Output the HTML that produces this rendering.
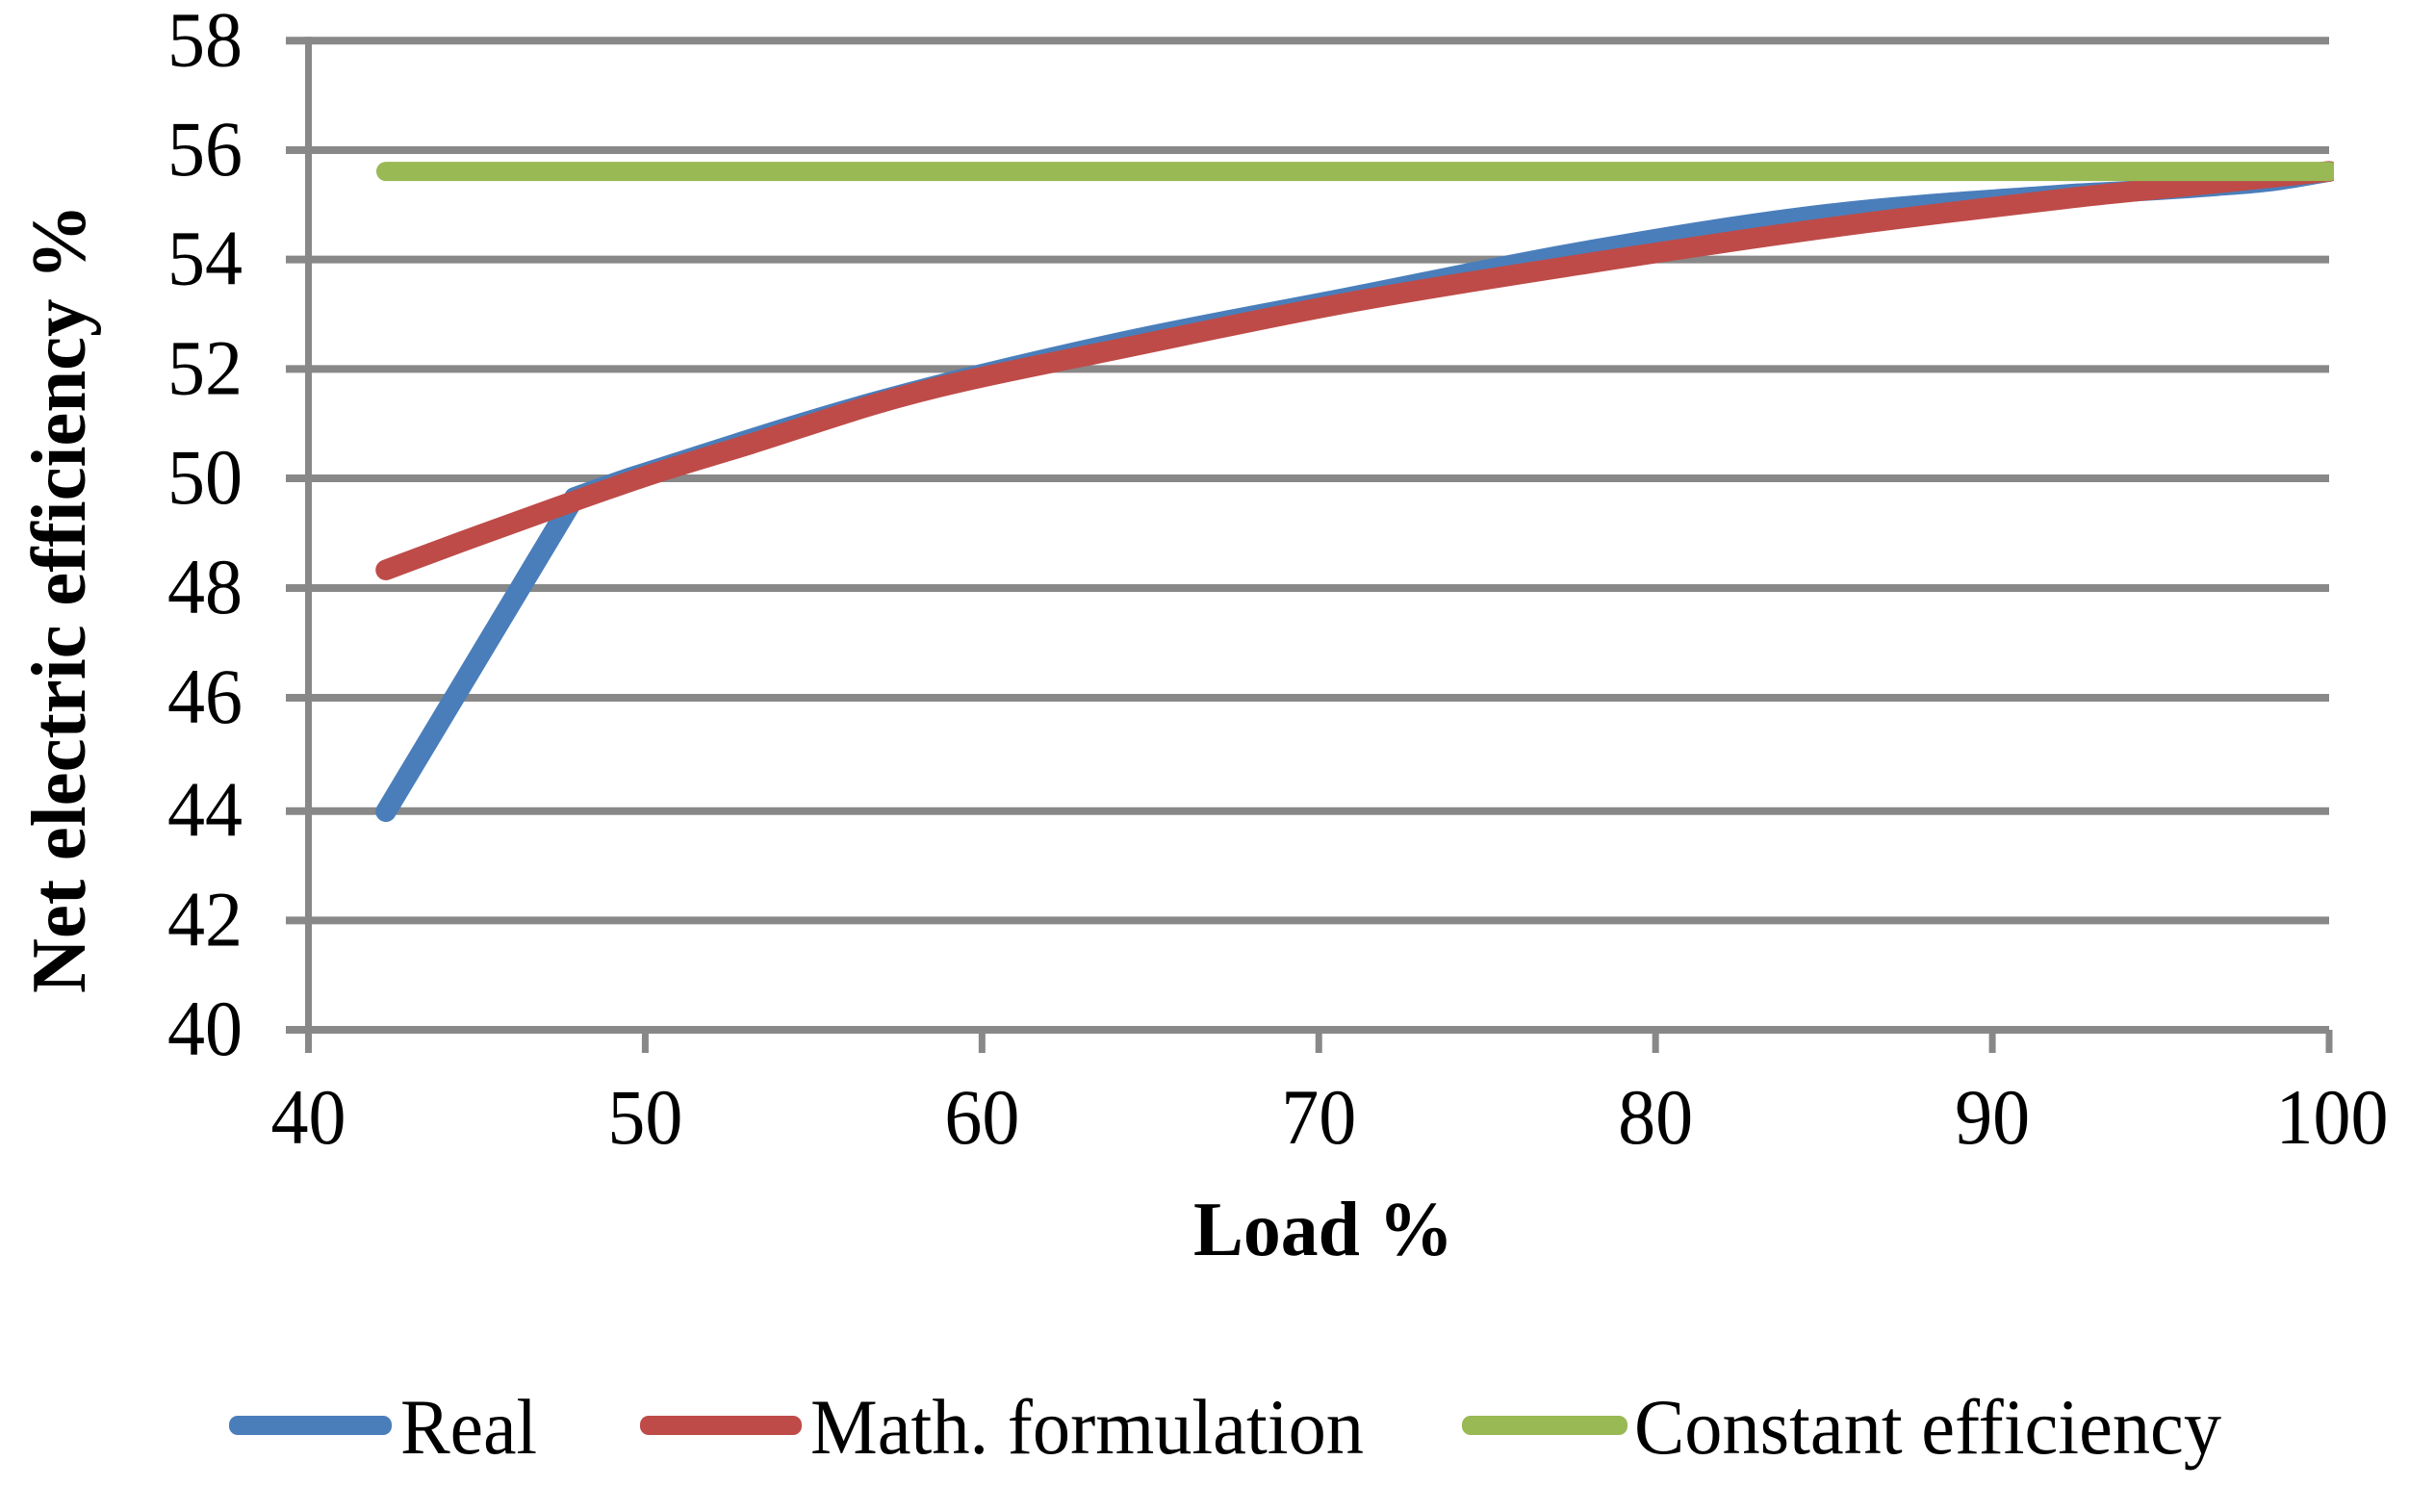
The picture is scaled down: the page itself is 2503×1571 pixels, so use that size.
<!DOCTYPE html>
<html lang="en">
<head>
<meta charset="utf-8">
<title>Net electric efficiency vs load</title>
<style>
html,body{margin:0;padding:0;background:#fff;}
svg{display:block;}
text{font-family:"Liberation Serif",serif;fill:#000;}
</style>
</head>
<body>
<svg id="chart" xmlns="http://www.w3.org/2000/svg" width="2503" height="1571" viewBox="0 0 2503 1571">
  <defs>
    <clipPath id="plot-clip"><rect x="300" y="0" width="2125" height="1100"/></clipPath>
  </defs>
  <rect x="0" y="0" width="2503" height="1571" fill="#fff"/>
  <g id="grid"></g>
  <g id="axes"></g>
  <g id="series" clip-path="url(#plot-clip)"></g>
  <g id="ylabels"></g>
  <g id="xlabels"></g>
  <text transform="translate(88,1032) rotate(-90)" font-size="81" font-weight="bold" textLength="820" lengthAdjust="spacingAndGlyphs">Net electric efficiency %</text>
  <text x="1240" y="1304" font-size="80" font-weight="bold" textLength="270" lengthAdjust="spacingAndGlyphs">Load %</text>
  <g>
    <g>
      <rect x="238" y="1471" width="169" height="20" rx="9" fill="#4a7ebb"/>
      <text x="416" y="1510" font-size="82" textLength="142" lengthAdjust="spacingAndGlyphs">Real</text>
    </g>
    <g>
      <rect x="665" y="1471" width="168" height="20" rx="9" fill="#be4b48"/>
      <text x="842" y="1510" font-size="82" textLength="575" lengthAdjust="spacingAndGlyphs">Math. formulation</text>
    </g>
    <g>
      <rect x="1519" y="1471" width="172" height="20" rx="9" fill="#98b954"/>
      <text x="1698" y="1510" font-size="82" textLength="610" lengthAdjust="spacingAndGlyphs">Constant efficiency</text>
    </g>
  </g>
</svg>
<script>
const yTicks = [40, 42, 44, 46, 48, 50, 52, 54, 56, 58];
const xTicks = [40, 50, 60, 70, 80, 90, 100];

const realLoad = [42.3, 47.9, 49.7, 56.85, 63.99, 70.85, 77.99, 85.14, 92.28, 94.49, 96.69, 98.32, 100];
const realEff = [43.99, 49.65, 50.04, 51.4, 52.47, 53.3, 54.16, 54.83, 55.19, 55.26, 55.35, 55.44, 55.61];

const mathLoad = [42.3, 44.57, 47.41, 50.27, 53.13, 56.85, 59.42, 63.71, 70.85, 77.99, 85.14, 92.28, 95.57, 100];
const mathEff = [48.33, 48.85, 49.48, 50.09, 50.63, 51.36, 51.77, 52.32, 53.21, 53.93, 54.58, 55.12, 55.33, 55.61];

const constLoad = [42.3, 100];
const constEff = [55.61, 55.61];

const NS = 'http://www.w3.org/2000/svg';
const GRID = '#888888';

function xScale(v) { return 320.5 + (v - 40) * (2420 - 320.5) / 60; }

/* The source figure's y axis is very slightly uneven, so the scale is piecewise linear. */
function yScale(v) {
  if (v >= 50) return 497 - (v - 50) * 56.84;
  if (v >= 46) return 497 + (50 - v) * 57;
  if (v >= 44) return 725 + (46 - v) * 58.85;
  return 842.7 + (44 - v) * 56.83;
}

function make(tag, attrs, parent) {
  const node = document.createElementNS(NS, tag);
  for (const k in attrs) node.setAttribute(k, attrs[k]);
  parent.appendChild(node);
  return node;
}

function smoothPath(xs, ys) {
  const p = xs.map((x, i) => [xScale(x), yScale(ys[i])]);
  let d = 'M' + p[0][0].toFixed(2) + ' ' + p[0][1].toFixed(2);
  for (let i = 0; i < p.length - 1; i++) {
    const p0 = p[Math.max(i - 1, 0)], p1 = p[i], p2 = p[i + 1], p3 = p[Math.min(i + 2, p.length - 1)];
    const seg = p2[0] - p1[0];
    const m1 = i === 0 ? (p2[1] - p1[1]) / seg : (p2[1] - p0[1]) / (p2[0] - p0[0]);
    const m2 = i + 2 > p.length - 1 ? (p2[1] - p1[1]) / seg : (p3[1] - p1[1]) / (p3[0] - p1[0]);
    d += ' C' + (p1[0] + seg / 3).toFixed(2) + ' ' + (p1[1] + m1 * seg / 3).toFixed(2) + ' ' +
         (p2[0] - seg / 3).toFixed(2) + ' ' + (p2[1] - m2 * seg / 3).toFixed(2) + ' ' +
         p2[0].toFixed(2) + ' ' + p2[1].toFixed(2);
  }
  return d;
}

const gridG = document.getElementById('grid');
const axesG = document.getElementById('axes');
const seriesG = document.getElementById('series');
const yLabelG = document.getElementById('ylabels');
const xLabelG = document.getElementById('xlabels');

yTicks.forEach(function (t) {
  const line = make('line', { x1: 297, x2: 2420, y1: yScale(t), y2: yScale(t), stroke: GRID, 'stroke-width': 8 }, gridG);
  
  
  const label = make('text', { x: 252, y: yScale(t) + 26, 'font-size': 82, 'text-anchor': 'end', textLength: 78, lengthAdjust: 'spacingAndGlyphs' }, yLabelG);
  
  
  label.textContent = t;
});

const yAxis = make('line', { x1: xScale(40), x2: xScale(40), y1: yScale(58) - 4, y2: 1094, stroke: GRID, 'stroke-width': 7 }, axesG);



xTicks.forEach(function (t) {
  const tick = make('line', { x1: xScale(t), x2: xScale(t), y1: 1070, y2: 1094, stroke: GRID, 'stroke-width': 7 }, axesG);
  
  
  const label = make('text', { x: xScale(t) + (t === 100 ? 3 : 0), y: 1188, 'font-size': 82, 'text-anchor': 'middle', textLength: String(t).length * 39, lengthAdjust: 'spacingAndGlyphs' }, xLabelG);
  
  
  label.textContent = t;
});

const lineStyle = { fill: 'none', 'stroke-width': 21.5, 'stroke-linecap': 'round', 'stroke-linejoin': 'round' };

const realLine = make('path', Object.assign({ d: smoothPath(realLoad.slice(1), realEff.slice(1)), stroke: '#4a7ebb' }, lineStyle), seriesG);



const realRise = make('line', Object.assign({ x1: xScale(realLoad[0]), y1: yScale(realEff[0]), x2: xScale(realLoad[1]), y2: yScale(realEff[1]), stroke: '#4a7ebb' }, lineStyle), seriesG);



const mathLine = make('path', Object.assign({ d: smoothPath(mathLoad, mathEff), stroke: '#be4b48' }, lineStyle), seriesG);



const constLine = make('path', Object.assign({ d: smoothPath(constLoad, constEff), stroke: '#98b954' }, lineStyle, { 'stroke-width': 20 }), seriesG);


</script>
</body>
</html>
